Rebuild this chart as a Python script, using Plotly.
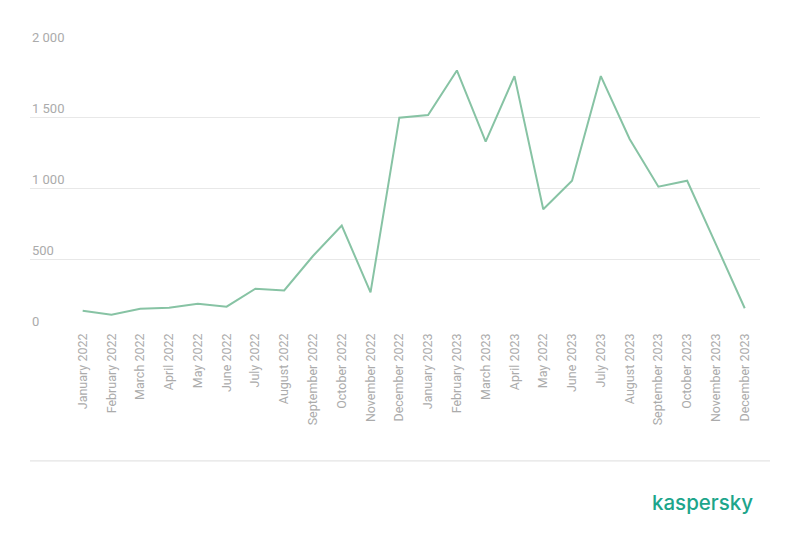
import plotly.graph_objects as go

months = ["January 2022", "February 2022", "March 2022", "April 2022", "May 2022", "June 2022",
          "July 2022", "August 2022", "September 2022", "October 2022", "November 2022", "December 2022",
          "January 2023", "February 2023", "March 2023", "April 2023", "May 2022", "June 2023",
          "July 2023", "August 2023", "September 2023", "October 2023", "November 2023", "December 2023"]
values = [136, 108, 150, 157, 185, 164, 291, 279, 521, 735, 265, 1495,
          1514, 1828, 1326, 1788, 850, 1051, 1788, 1345, 1009, 1051, 603, 153]
y_ticks = [0, 500, 1000, 1500, 2000]
y_ticktext = ["0", "500", "1 000", "1 500", "2 000"]

fig = go.Figure()
fig.add_trace(go.Scatter(
    x=list(range(len(months))), y=values, mode="lines",
    line=dict(color="#87C3A4", width=2), hoverinfo="skip", showlegend=False))

annotations = [dict(text=t, xref="paper", yref="y", x=0, y=v, xanchor="left", yanchor="bottom",
                    yshift=-1, showarrow=False, font=dict(family="Roboto", size=13, color="#ABABAB"))
               for v, t in zip(y_ticks, y_ticktext)]
annotations.append(dict(text="kaspersky", xref="paper", yref="paper", x=0.9927, y=-0.5566,
                        xanchor="right", yanchor="top", showarrow=False,
                        font=dict(family="Inter", size=20.5, color="#1DA58B", weight=500)))

fig.update_layout(
    width=800, height=543,
    margin=dict(l=22, r=48, t=38, b=221),
    paper_bgcolor="white", plot_bgcolor="white",
    font=dict(family="Roboto", color="#ABABAB"),
    xaxis=dict(
        range=[-1.83, 23.53], tickmode="array",
        tickvals=list(range(len(months))), ticktext=months,
        tickangle=-90, showgrid=False, zeroline=False, showline=False,
        ticks="", tickfont=dict(size=12.5, color="#ABABAB"), fixedrange=True),
    yaxis=dict(
        range=[0, 2000], tickmode="array", tickvals=y_ticks,
        showticklabels=False,
        showgrid=True, gridcolor="#E8E8E8", gridwidth=1, zeroline=False, showline=False,
        ticks="", fixedrange=True),
    shapes=[dict(type="line", xref="paper", yref="paper", x0=0, x1=1.0137,
                 y0=-0.461, y1=-0.461, line=dict(color="#DDDDDD", width=1))],
    annotations=annotations,
)

fig.write_html("out.html")
